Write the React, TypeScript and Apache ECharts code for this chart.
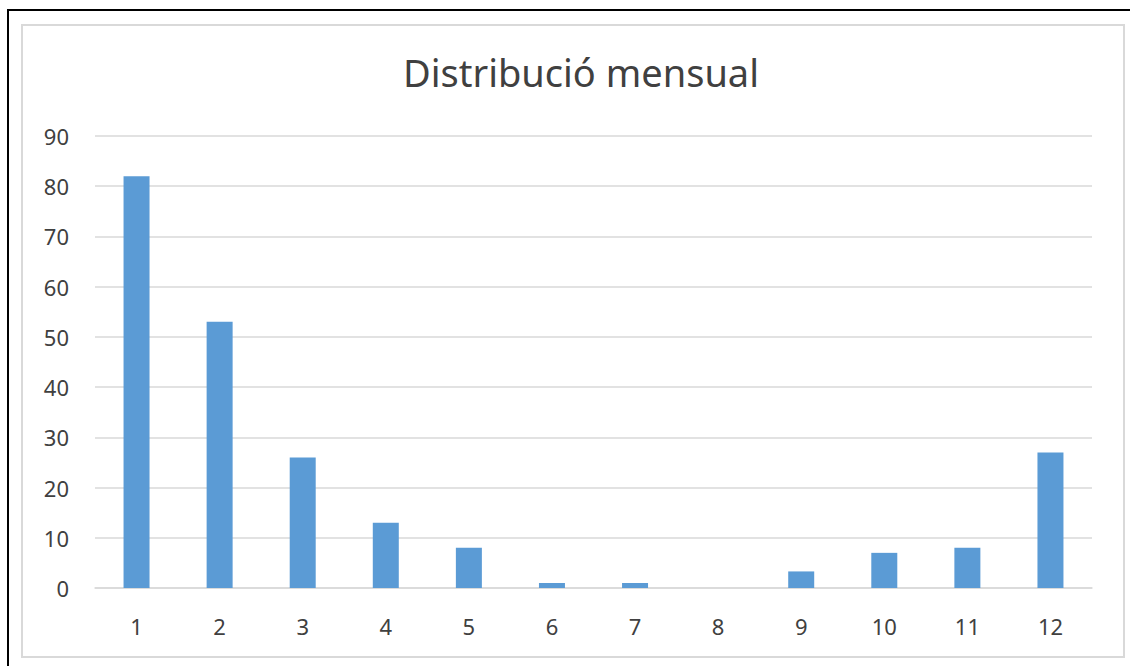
import React, { useEffect, useRef } from "react";
import * as echarts from "echarts";

const categories = ["1", "2", "3", "4", "5", "6", "7", "8", "9", "10", "11", "12"];
const values = [82, 53, 26, 13, 8, 1, 1, 0, 3.3, 7, 8, 27];
const titleText = "Distribució mensual";

export default function App() {
  const ref = useRef<HTMLDivElement>(null);
  useEffect(() => {
    if (!ref.current) return;
    const chart = echarts.init(ref.current, null, { renderer: "svg" });
    chart.setOption({
      animation: false,
      backgroundColor: "#ffffff",
      title: {
        text: titleText,
        left: 398,
        top: 48,
        textStyle: { fontFamily: "Noto Sans", fontSize: 38, fontWeight: "normal", color: "#404040" },
      },
      graphic: [
        { type: "rect", shape: { x: 8, y: 10, width: 1200, height: 700 }, style: { fill: "none", stroke: "#000", lineWidth: 2 }, z: 10 },
        { type: "rect", shape: { x: 22, y: 25, width: 1102, height: 632 }, style: { fill: "none", stroke: "#d9d9d9", lineWidth: 2 }, z: 10 },
      ],
      grid: { left: 95, right: 38, top: 136, bottom: 78, containLabel: false },
      xAxis: {
        type: "category",
        data: categories,
        axisLine: { show: true, lineStyle: { color: "#d9d9d9", width: 1.5 } },
        axisTick: { show: false },
        axisLabel: { fontFamily: "Noto Sans", fontSize: 22, color: "#404040", margin: 27 },
      },
      yAxis: {
        type: "value",
        min: 0,
        max: 90,
        interval: 10,
        axisLine: { show: false },
        axisTick: { show: false },
        splitLine: { lineStyle: { color: "#d9d9d9", width: 1.5 } },
        axisLabel: { fontFamily: "Noto Sans", fontSize: 22, color: "#404040", margin: 26 },
      },
      series: [
        {
          type: "bar",
          data: values,
          barWidth: 26,
          itemStyle: { color: "#5b9bd5" },
        },
      ],
    });
    return () => chart.dispose();
  }, []);
  return <div ref={ref} style={{ position: "fixed", left: 0, top: 0, width: 1130, height: 666 }} />;
}
